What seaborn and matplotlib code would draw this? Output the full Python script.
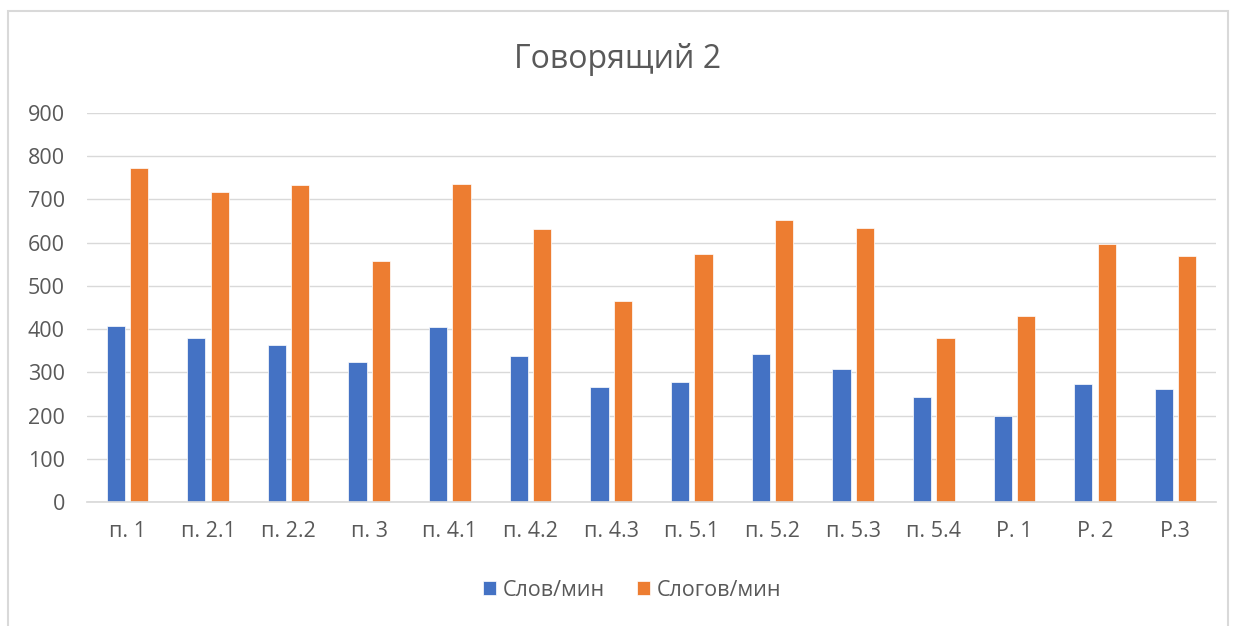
import pandas as pd
import seaborn as sns
import matplotlib.pyplot as plt
from matplotlib.patches import Rectangle

# данные с диаграммы
categories = ['п. 1', 'п. 2.1', 'п. 2.2', 'п. 3', 'п. 4.1', 'п. 4.2', 'п. 4.3',
              'п. 5.1', 'п. 5.2', 'п. 5.3', 'п. 5.4', 'Р. 1', 'Р. 2', 'Р.3']
words_per_min = [407, 379, 364, 324, 404, 337, 265, 278, 342, 308, 244, 198, 272, 262]
syll_per_min = [773, 717, 733, 558, 736, 631, 465, 573, 652, 634, 380, 431, 598, 570]
series_names = ['Слов/мин', 'Слогов/мин']

df = pd.DataFrame({
    'cat': categories * 2,
    'val': words_per_min + syll_per_min,
    'series': [series_names[0]] * len(categories) + [series_names[1]] * len(categories),
})

sns.set_theme(style='white')
plt.rcParams['font.family'] = ['Open Sans', 'DejaVu Sans']

grey = '#595959'
fig = plt.figure(figsize=(12.35, 6.26), dpi=100)
ax = fig.add_axes([87 / 1235, 1 - 502 / 626, (1216 - 87) / 1235, (502 - 113) / 626])

# рамка области диаграммы
fig.patches.append(Rectangle((8 / 1235, -0.05), (1228 - 8) / 1235, 1.05 - 11 / 626,
                             transform=fig.transFigure, fill=False,
                             edgecolor='#D9D9D9', linewidth=1.5))

sns.barplot(data=df, x='cat', y='val', hue='series', order=categories,
            palette=['#4472C4', '#ED7D31'], saturation=1, width=0.58, gap=0.22,
            edgecolor='white', linewidth=0.5, ax=ax, legend=True)

ax.set_ylim(0, 900)
ax.set_yticks(range(0, 901, 100))
ax.set_xlim(-0.5, len(categories) - 0.5)
ax.yaxis.grid(True, color='#D9D9D9', linewidth=1)
ax.set_axisbelow(True)
for s in ['top', 'right', 'left']:
    ax.spines[s].set_visible(False)
ax.spines['bottom'].set_color('#D9D9D9')
ax.tick_params(axis='both', length=0, labelsize=15.5, colors=grey)
ax.tick_params(axis='x', pad=14)
ax.tick_params(axis='y', pad=16)
ax.set_xlabel('')
ax.set_ylabel('')

fig.text(0.5, 1 - 60 / 626, 'Говорящий 2', ha='center', va='center',
         fontsize=23, color=grey)

handles, labels = ax.get_legend_handles_labels()
ax.get_legend().remove()
fig.legend(handles, labels, loc='center', bbox_to_anchor=(632 / 1235, 1 - 590 / 626),
           ncol=2, frameon=False, fontsize=15.5, labelcolor=grey,
           handlelength=0.6, handleheight=0.6, handletextpad=0.3, columnspacing=1.5)

fig.savefig('out.png', dpi=100)
